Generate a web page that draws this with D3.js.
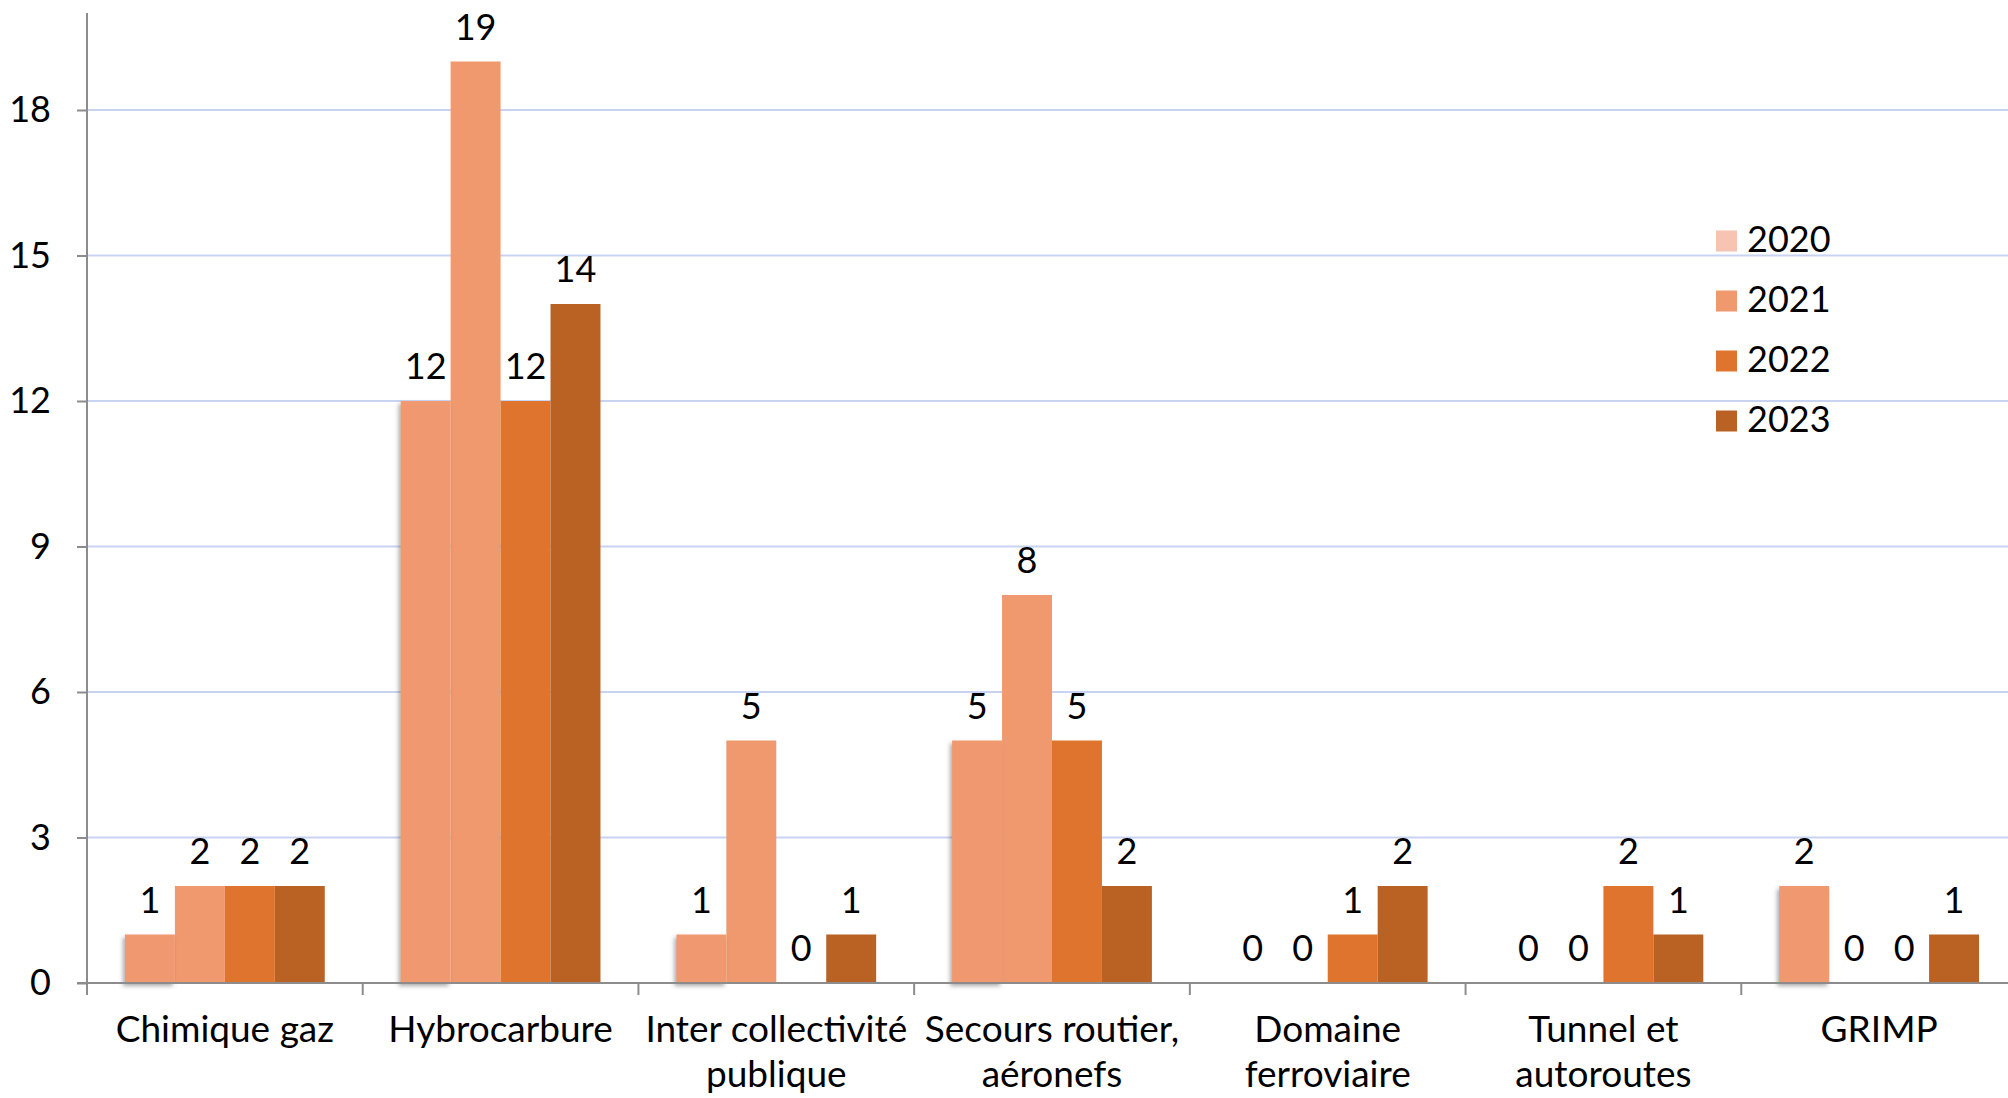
<!DOCTYPE html>
<html>
<head>
<meta charset="utf-8">
<script src="https://cdn.jsdelivr.net/npm/d3@7"></script>
<style>
  body { margin: 0; background: #fff; }
  text { font-family: Lato, "Noto Sans", sans-serif; fill: #000; }
</style>
</head>
<body>
<svg id="chart" width="2008" height="1098"></svg>
<script>
// data
var categories = ['Chimique gaz', 'Hybrocarbure', 'Inter collectivité publique', 'Secours routier, aéronefs',
  'Domaine ferroviaire', 'Tunnel et autoroutes', 'GRIMP'];
var categoryLines = [['Chimique gaz'], ['Hybrocarbure'], ['Inter collectivité', 'publique'],
  ['Secours routier,', 'aéronefs'], ['Domaine', 'ferroviaire'], ['Tunnel et', 'autoroutes'], ['GRIMP']];
var years = ['2020', '2021', '2022', '2023'];
var values2020 = [1, 12, 1, 5, 0, 0, 2];
var values2021 = [2, 19, 5, 8, 0, 0, 0];
var values2022 = [2, 12, 0, 5, 1, 2, 0];
var values2023 = [2, 14, 1, 2, 2, 1, 1];
var yTicks = [0, 3, 6, 9, 12, 15, 18];

var barColors = ['#F0996F', '#F0996F', '#DF742E', '#BA6124'];
var legendColors = ['#F6C4B1', '#F0996F', '#DF742E', '#BA6124'];

var series = [values2020, values2021, values2022, values2023];

var svg = d3.select('#chart');

var plotLeft = 87, plotRight = 2017, plotTop = 13, plotBottom = 983;

var x0 = d3.scaleBand().domain(categories).range([plotLeft, plotRight]).padding(0);
var x1 = d3.scaleBand().domain(years).range([0, x0.bandwidth()]).paddingInner(0).paddingOuter(0.76);
var y = d3.scaleLinear().domain([0, 20]).range([plotBottom, plotTop]);

var defs = svg.append('defs');
var shadow = defs.append('filter').attr('id', 'shadow')
  .attr('x', '-20%').attr('y', '-10%').attr('width', '140%').attr('height', '130%');
shadow.append('feDropShadow')
  .attr('dx', -2).attr('dy', 3).attr('stdDeviation', 2)
  .attr('flood-color', '#555').attr('flood-opacity', 0.5);

// grid lines
svg.append('g')
  .selectAll('line')
  .data(yTicks.filter(function(d) { return d > 0; }))
  .enter().append('line')
  .attr('x1', plotLeft).attr('x2', 2008)
  .attr('y1', function(d) { return y(d); })
  .attr('y2', function(d) { return y(d); })
  .style('stroke', '#C8D3F2')
  .style('stroke-width', 2);

// bars, first series drawn last so its shadow sits on top like the original
var order = [1, 2, 3, 0];
order.forEach(function(s) {
  var g = svg.append('g');
  g.selectAll('rect')
    .data(series[s].map(function(v, i) { return { cat: categories[i], v: v }; }).filter(function(d) { return d.v > 0; }))
    .enter().append('rect')
    .attr('x', function(d) { return x0(d.cat) + x1(years[s]); })
    .attr('y', function(d) { return y(d.v); })
    .attr('width', x1.bandwidth())
    .attr('height', function(d) { return y(0) - y(d.v); })
    .style('fill', barColors[s])
    .attr('filter', s === 0 ? 'url(#shadow)' : null);
});

// value labels
series.forEach(function(vals, s) {
  svg.append('g')
    .selectAll('text')
    .data(vals.map(function(v, i) { return { cat: categories[i], v: v }; }))
    .enter().append('text')
    .attr('x', function(d) { return x0(d.cat) + x1(years[s]) + x1.bandwidth() / 2; })
    .attr('y', function(d) { return y(d.v) - 22; })
    .attr('text-anchor', 'middle')
    .style('font-size', '36px')
    .text(function(d) { return d.v; });
});

// y axis
var yAxis = svg.append('g')
  .attr('transform', 'translate(' + plotLeft + ',0)')
  .call(d3.axisLeft(y).tickValues(yTicks).tickSize(10).tickPadding(26));
yAxis.select('.domain').remove();
yAxis.selectAll('.tick line').style('stroke', '#8C8C8C').style('stroke-width', 2);
yAxis.selectAll('.tick text').style('font-size', '36px').style('font-family', 'Lato, "Noto Sans", sans-serif');
svg.append('line')
  .attr('x1', plotLeft).attr('x2', plotLeft).attr('y1', plotTop).attr('y2', plotBottom)
  .style('stroke', '#8C8C8C').style('stroke-width', 2);

// x axis
svg.append('line')
  .attr('x1', plotLeft - 10).attr('x2', 2008).attr('y1', plotBottom).attr('y2', plotBottom)
  .style('stroke', '#8C8C8C').style('stroke-width', 2);
svg.append('g')
  .selectAll('line')
  .data(categories)
  .enter().append('line')
  .attr('x1', function(d) { return x0(d); })
  .attr('x2', function(d) { return x0(d); })
  .attr('y1', plotBottom).attr('y2', plotBottom + 12)
  .style('stroke', '#8C8C8C').style('stroke-width', 2);

var catLabels = svg.append('g')
  .selectAll('text')
  .data(categories)
  .enter().append('text')
  .attr('x', function(d) { return x0(d) + x0.bandwidth() / 2; })
  .attr('y', 1042)
  .attr('text-anchor', 'middle')
  .style('font-size', '37px');
catLabels.selectAll('tspan')
  .data(function(d, i) { return categoryLines[i]; })
  .enter().append('tspan')
  .attr('x', function() { return d3.select(this.parentNode).attr('x'); })
  .attr('dy', function(d, i) { return i === 0 ? 0 : 45; })
  .text(function(d) { return d; });

// legend
var legend = svg.append('g').attr('transform', 'translate(1716,241)');
years.forEach(function(yr, i) {
  var row = legend.append('g').attr('transform', 'translate(0,' + (i * 60) + ')');
  row.append('rect')
    .attr('x', 0).attr('y', -10.5)
    .attr('width', 21).attr('height', 21)
    .style('fill', legendColors[i]);
  row.append('text')
    .attr('x', 31).attr('y', -3)
    .attr('dominant-baseline', 'central')
    .style('font-size', '36px')
    .text(yr);
});
</script>
</body>
</html>
